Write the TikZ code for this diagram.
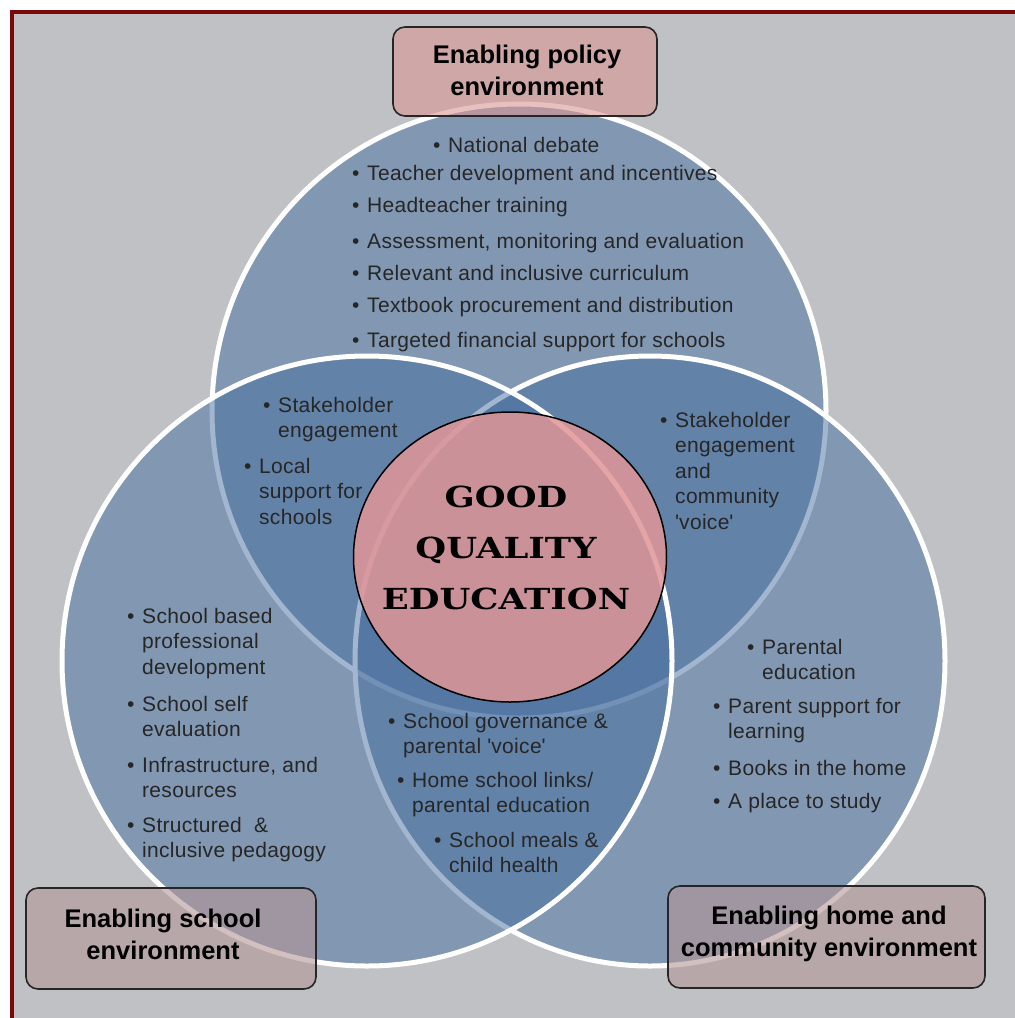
\documentclass[tikz,border=0pt]{standalone}
\usepackage{fontspec}
\setmainfont{Liberation Sans}
\newfontfamily\qualfont[FakeStretch=1.22]{DejaVu Serif}
\usetikzlibrary{shapes.geometric}
\definecolor{framered}{RGB}{122,8,8}
\definecolor{backgray}{RGB}{192,193,197}
\definecolor{vennblue}{RGB}{70,110,160}
\definecolor{corepink}{RGB}{225,150,152}
\definecolor{policypink}{RGB}{217,150,148}
\definecolor{envmauve}{RGB}{180,150,150}
\newcommand{\bul}[1]{\makebox[15pt][l]{\textbullet}\begin{tabular}[t]{@{}l@{}}#1\end{tabular}}
\newcommand{\stack}[1]{\begin{tabular}[t]{@{}c@{}}#1\end{tabular}}
\newcommand{\qt}{\textquotesingle}

\begin{document}
\begin{tikzpicture}[x=1pt,y=-1pt,
		ring/.style={fill=vennblue,fill opacity=0.5,draw=white,line width=5pt},
		item/.style={anchor=base west,inner sep=0pt,text=black!85,font=\fontsize{21}{25.5}\selectfont\addfontfeature{LetterSpace=1.5}},
		envbox/.style={draw=black!85,line width=1.6pt,rounded corners=12pt,fill opacity=0.6,inner sep=0pt},
		envtitle/.style={anchor=base,inner sep=0pt,font=\bfseries\fontsize{25.5}{32}\selectfont}]
		\useasboundingbox (0,0) rectangle (1015,1018);
		\clip (0,0) rectangle (1015,1018);
		\fill[backgray] (12,12) rectangle (1040,1040);
		\draw[framered,line width=3.5pt] (12,1040) -- (12,12) -- (1040,12);
		% the three circles
		\filldraw[ring] (519,411) circle (307);
		\filldraw[ring] (650,661) ellipse (295 and 305);
		\filldraw[ring] (367,661) circle (305);
		% centre
		\node[ellipse,draw=black,line width=1.5pt,fill=corepink,fill opacity=0.85,minimum width=313,minimum height=290,inner sep=0pt] (core) at (510,557) {};
		\node[anchor=base,inner sep=0pt,font=\qualfont\bfseries\fontsize{29}{51}\selectfont] (quality) at (506,507) {\stack{GOOD\\QUALITY\\EDUCATION}};
		% boxes
		\node[envbox,fill=policypink,minimum width=264,minimum height=89] (policybox) at (525,71.5) {};
		\node[envbox,fill=envmauve,minimum width=290,minimum height=101] (schoolbox) at (171,938.5) {};
		\node[envbox,fill=envmauve,minimum width=317,minimum height=102] (homebox) at (826.5,937) {};
		\node[envtitle] (policy) at (527,63) {\stack{Enabling policy\\environment}};
		\node[envtitle] (school) at (163,927) {\stack{Enabling school\\environment}};
		\node[envtitle] (home) at (829,924) {\stack{Enabling home and\\community environment}};
		% policy items
		\node[item] (debate) at (433,152) {\bul{National debate}};
		\node[item] (teacher) at (352,180) {\bul{Teacher development and incentives}};
		\node[item] (head) at (352,212) {\bul{Headteacher training}};
		\node[item] (assess) at (352,248) {\bul{Assessment, monitoring and evaluation}};
		\node[item] (curric) at (352,280) {\bul{Relevant and inclusive curriculum}};
		\node[item] (textbook) at (352,312) {\bul{Textbook procurement and distribution}};
		\node[item] (finance) at (352,347) {\bul{Targeted financial support for schools}};
		% overlaps
		\node[item] (stakeL) at (263,412) {\bul{Stakeholder\\engagement}};
		\node[item] (local) at (244,473) {\bul{Local\\support for\\schools}};
		\node[item] (stakeR) at (660,427) {\bul{Stakeholder\\engagement\\and\\community\\\qt voice\qt}};
		\node[item] (govern) at (388,728) {\bul{School governance \&\\parental \qt voice\qt}};
		\node[item] (links) at (397,787) {\bul{Home school links/\\parental education}};
		\node[item] (meals) at (434,847) {\bul{School meals \&\\child health}};
		% school items
		\node[item] (profdev) at (127,623) {\bul{School based\\professional\\development}};
		\node[item] (selfeval) at (127,711) {\bul{School self\\evaluation}};
		\node[item] (infra) at (127,772) {\bul{Infrastructure, and\\resources}};
		\node[item] (pedag) at (127,832) {\bul{Structured \ \&\\inclusive pedagogy}};
		% home items
		\node[item] (parented) at (747,654) {\bul{Parental\\education}};
		\node[item] (support) at (713,713) {\bul{Parent support for\\learning}};
		\node[item] (books) at (713,775) {\bul{Books in the home}};
		\node[item] (place) at (713,808) {\bul{A place to study}};
\end{tikzpicture}
\end{document}
